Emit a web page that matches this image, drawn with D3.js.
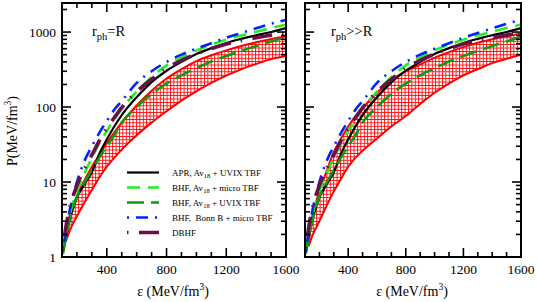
<!DOCTYPE html>
<html>
<head>
<meta charset="utf-8">
<script src="https://cdn.jsdelivr.net/npm/d3@7"></script>
<style>
  body { margin: 0; background: #fff; }
  svg text { font-family: "Liberation Serif", "Times New Roman", serif; }
</style>
</head>
<body>
<svg id="vis" width="537" height="302"></svg>
<script>
// energy density grid (MeV/fm^3) and pressures (MeV/fm^3)
var lineE = [105, 130, 160, 200, 250, 300, 355, 400, 450, 500, 600, 700, 800, 900, 1000, 1100, 1200, 1300, 1400, 1500, 1600];
var aprP    = [1.1, 2.0, 3.6, 6.2, 9.3, 13.5, 25, 37, 55, 78, 135, 215, 305, 400, 510, 610, 715, 810, 905, 1000, 1130];
var bhfMicP = [1.1, 2.2, 4.2, 7.5, 13, 21, 34, 48, 68, 95, 160, 250, 360, 460, 570, 680, 790, 900, 1010, 1130, 1260];
var bhfUvP  = [1.1, 2.0, 3.6, 6.4, 9.8, 14.5, 22, 30, 42, 62, 100, 150, 205, 265, 330, 405, 480, 560, 650, 750, 860];
var bonnP   = [1.2, 2.5, 5.0, 10, 19, 30, 47, 65, 92, 120, 210, 300, 400, 500, 600, 710, 840, 970, 1120, 1290, 1450];
var dbhfP   = [1.3, 2.8, 5.2, 9, 15, 23, 37, 52, 72, 98, 160, 235, 330, 420, 510, 600, 690, 770, 840, 910, 975];

var bandE = [125, 150, 200, 250, 300, 350, 400, 450, 500, 600, 700, 800, 900, 1000, 1100, 1200, 1300, 1400, 1500, 1600];
var bandLoR  = [1.6, 2.2, 3.5, 5.3, 7.8, 11.5, 16, 21, 27, 42, 62, 88, 122, 162, 210, 262, 318, 375, 435, 480];
var bandHiR  = [2.2, 3.5, 6.5, 10.5, 16, 23, 33, 46, 62, 105, 165, 240, 320, 410, 490, 570, 650, 730, 810, 880];
var bandLoRR = [1.4, 1.9, 3, 4.8, 7.5, 11, 16, 21, 26, 38, 55, 76, 110, 155, 205, 265, 320, 385, 440, 500];
var bandHiRR = [2.0, 3.5, 7.5, 14, 25, 38, 55, 75, 97, 155, 230, 300, 370, 455, 540, 630, 720, 800, 880, 960];

var xTicks = [400, 800, 1200, 1600];
var xMinor = [200, 300, 500, 600, 700, 900, 1000, 1100, 1300, 1400, 1500];
var yTicks = [1, 10, 100, 1000];
var yTickLabels = ["1", "10", "100", "1000"];

var series = [
  { name: "APR", values: aprP, color: "#000000", width: 2.2, dash: null },
  { name: "BHF micro", values: bhfMicP, color: "#22ee22", width: 2.6, dash: "13,8" },
  { name: "BHF UVIX", values: bhfUvP, color: "#119911", width: 2.6, dash: "17,7" },
  { name: "Bonn", values: bonnP, color: "#0022ff", width: 2.6, dash: "2,7,12,7" },
  { name: "DBHF", values: dbhfP, color: "#6a1048", width: 3.6, dash: "1.5,10.5,20,10" }
];

var svg = d3.select("#vis");

// red cross hatch used for the bands
var defs = svg.append("defs");
var pat = defs.append("pattern")
  .attr("id", "hatch")
  .attr("patternUnits", "userSpaceOnUse")
  .attr("width", 3.4).attr("height", 3.4);
pat.append("rect").attr("width", 3.4).attr("height", 3.4).attr("fill", "#fff");
pat.append("path").attr("d", "M0,0.5H3.4M0.5,0V3.4")
  .attr("stroke", "#ff0000").attr("stroke-width", 0.9);

var y = d3.scaleLog().domain([1, 2440]).range([257, 3]);

var panels = [
  { id: "p0", x0: 62, x1: 286, lo: bandLoR, hi: bandHiR, sub: "ph", tail: "=R", tx: 92, labels: true },
  { id: "p1", x0: 305, x1: 521, lo: bandLoRR, hi: bandHiRR, sub: "ph", tail: ">>R", tx: 331, labels: false }
];

panels.forEach(function (p) {
  var x = d3.scaleLinear().domain([100, 1600]).range([p.x0, p.x1]);
  var g = svg.append("g");

  defs.append("clipPath").attr("id", "clip-" + p.id)
    .append("rect").attr("x", p.x0).attr("y", 3)
    .attr("width", p.x1 - p.x0).attr("height", 254);

  var plot = g.append("g").attr("clip-path", "url(#clip-" + p.id + ")");

  var band = bandE.map(function (e, i) { return { e: e, lo: p.lo[i], hi: p.hi[i] }; });
  var area = d3.area()
    .x(function (d) { return x(d.e); })
    .y0(function (d) { return y(d.lo); })
    .y1(function (d) { return y(d.hi); })
    .curve(d3.curveMonotoneX);
  plot.append("path").datum(band).attr("d", area)
    .attr("fill", "url(#hatch)").attr("stroke", "none");

  var edge = d3.line().x(function (d) { return x(d[0]); }).y(function (d) { return y(d[1]); })
    .curve(d3.curveMonotoneX);
  [p.lo, p.hi].forEach(function (vals) {
    plot.append("path").datum(bandE.map(function (e, i) { return [e, vals[i]]; }))
      .attr("d", edge).attr("fill", "none").attr("stroke", "#ff0000").attr("stroke-width", 2);
  });
  // close the band at its low end
  plot.append("line")
    .attr("x1", x(bandE[0])).attr("y1", y(p.lo[0]))
    .attr("x2", x(bandE[0])).attr("y2", y(p.hi[0]))
    .attr("stroke", "#ff0000").attr("stroke-width", 2);

  series.forEach(function (s) {
    plot.append("path").datum(lineE.map(function (e, i) { return [e, s.values[i]]; }))
      .attr("d", edge).attr("fill", "none")
      .attr("stroke", s.color).attr("stroke-width", s.width)
      .attr("stroke-dasharray", s.dash);
  });

  // frame
  g.append("rect").attr("x", p.x0).attr("y", 3)
    .attr("width", p.x1 - p.x0).attr("height", 254)
    .attr("fill", "none").attr("stroke", "#000").attr("stroke-width", 2);

  var ticks = g.append("g").attr("stroke", "#000").attr("stroke-width", 1.6);
  xTicks.concat(xMinor).forEach(function (v) {
    var len = xTicks.indexOf(v) >= 0 ? 9 : 5;
    ticks.append("line").attr("x1", x(v)).attr("x2", x(v)).attr("y1", 257).attr("y2", 257 - len);
    ticks.append("line").attr("x1", x(v)).attr("x2", x(v)).attr("y1", 3).attr("y2", 3 + len);
  });
  for (var k = 0; k < 4; k++) {
    for (var m = 1; m < 10; m++) {
      var v = m * Math.pow(10, k);
      if (v > 2440) break;
      var len = m === 1 ? 9 : 5;
      ticks.append("line").attr("x1", p.x0).attr("x2", p.x0 + len).attr("y1", y(v)).attr("y2", y(v));
      ticks.append("line").attr("x1", p.x1).attr("x2", p.x1 - len).attr("y1", y(v)).attr("y2", y(v));
    }
  }

  g.selectAll(".xlab").data(xTicks).enter().append("text")
    .attr("x", function (d) { return x(d); }).attr("y", 274)
    .attr("text-anchor", "middle").attr("font-size", 13.5)
    .text(function (d) { return d; });

  if (p.labels) {
    g.selectAll(".ylab").data(yTicks).enter().append("text")
      .attr("x", 56).attr("y", function (d) { return y(d) + 4.5; })
      .attr("text-anchor", "end").attr("font-size", 13.5)
      .text(function (d, i) { return yTickLabels[i]; });
  }

  var xt = g.append("text").attr("x", (p.x0 + p.x1) / 2 - 1).attr("y", 296)
    .attr("text-anchor", "middle").attr("font-size", 14);
  xt.append("tspan").text("\u03b5 (MeV/fm");
  xt.append("tspan").attr("dy", -6).attr("font-size", 9.5).text("3");
  xt.append("tspan").attr("dy", 6).text(")");

  var lt = g.append("text").attr("x", p.tx).attr("y", 36).attr("font-size", 14.5);
  lt.append("tspan").text("r");
  lt.append("tspan").attr("dy", 4).attr("font-size", 10.5).text(p.sub);
  lt.append("tspan").attr("dy", -4).text(p.tail);
});

// y title
var yt = svg.append("text").attr("transform", "translate(17,131) rotate(-90)")
  .attr("text-anchor", "middle").attr("font-size", 14);
yt.append("tspan").text("P(MeV/fm");
yt.append("tspan").attr("dy", -6).attr("font-size", 9.5).text("3");
yt.append("tspan").attr("dy", 6).text(")");

// legend
var legendRows = [
  { main: "APR, Av", sub: "18", rest: " + UVIX TBF" },
  { main: "BHF, Av", sub: "18", rest: " + micro TBF" },
  { main: "BHF, Av", sub: "18", rest: " + UVIX TBF" },
  { main: "BHF,  Bonn B + micro TBF", sub: "", rest: "" },
  { main: "DBHF", sub: "", rest: "" }
];
var legend = svg.append("g");
legendRows.forEach(function (r, i) {
  var s = series[i];
  var ly = 172.5 + i * 15;
  legend.append("line").attr("x1", 127).attr("x2", 159).attr("y1", ly).attr("y2", ly)
    .attr("stroke", s.color).attr("stroke-width", s.width).attr("stroke-dasharray", s.dash);
  var t = legend.append("text").attr("x", 172).attr("y", ly + 3).attr("font-size", 9)
    .style("white-space", "pre");
  t.append("tspan").text(r.main);
  if (r.sub) {
    t.append("tspan").attr("dy", 2.5).attr("font-size", 6.5).text(r.sub);
    t.append("tspan").attr("dy", -2.5).text(r.rest);
  }
});
</script>
</body>
</html>
